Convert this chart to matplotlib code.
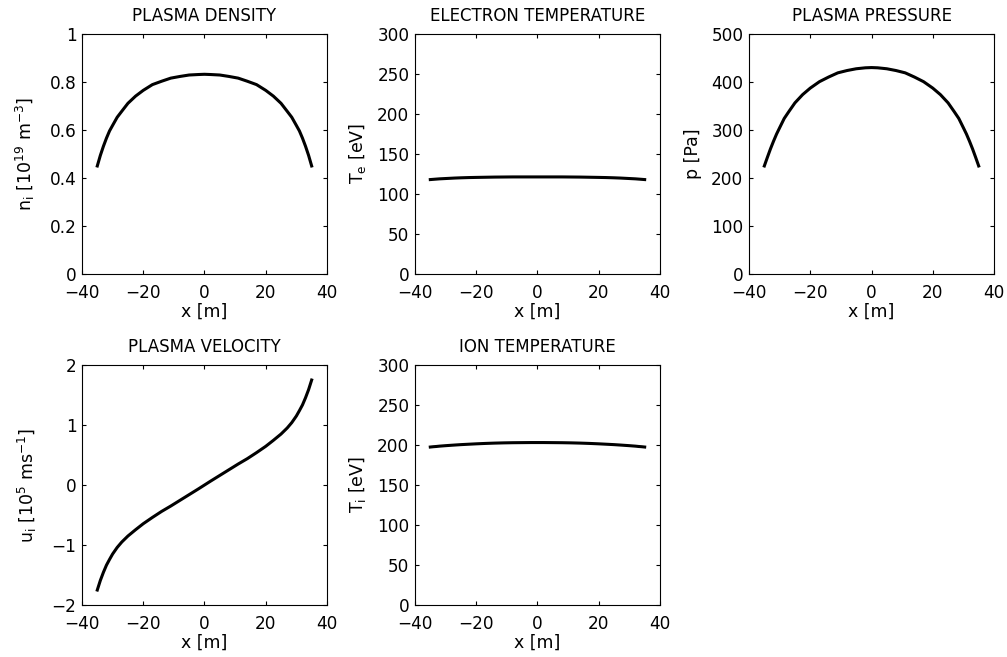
import matplotlib
matplotlib.use("Agg")
import matplotlib.pyplot as plt

# positions along the field line [m]
x = [-35, -34, -33, -32, -31, -30, -28.5, -27, -25, -22.5, -20, -17, -14, -11, -8, -5, -2, 0,
     2, 5, 8, 11, 14, 17, 20, 22.5, 25, 27, 28.5, 30, 31, 32, 33, 34, 35]

# plasma density [1e19 m^-3]
density = [0.450, 0.494, 0.532, 0.566, 0.596, 0.619, 0.653, 0.678, 0.711, 0.741, 0.765, 0.789,
           0.803, 0.816, 0.823, 0.829, 0.831, 0.832,
           0.831, 0.829, 0.823, 0.816, 0.803, 0.789, 0.765, 0.741, 0.711, 0.678, 0.653, 0.619,
           0.596, 0.566, 0.532, 0.494, 0.450]

# electron temperature [eV]
te = [118.0, 118.3, 118.6, 118.9, 119.1, 119.3, 119.6, 119.9, 120.2, 120.5, 120.7, 120.9,
      121.1, 121.2, 121.3, 121.3, 121.3, 121.3,
      121.3, 121.3, 121.3, 121.2, 121.1, 120.9, 120.7, 120.5, 120.2, 119.9, 119.6, 119.3,
      119.1, 118.9, 118.6, 118.3, 118.0]

# plasma pressure [Pa]
pressure = [225, 243, 260.5, 276.5, 291.5, 304.6, 324, 338.2, 356.5, 373.6, 387.2, 400.6,
            410.3, 419, 423.8, 427.5, 429.5, 430,
            429.5, 427.5, 423.8, 419, 410.3, 400.6, 387.2, 373.6, 356.5, 338.2, 324, 304.6,
            291.5, 276.5, 260.5, 243, 225]

# plasma velocity [1e5 m/s]
velocity = [-1.75, -1.59, -1.455, -1.335, -1.24, -1.15, -1.04, -0.95, -0.85, -0.745, -0.645,
            -0.54, -0.44, -0.35, -0.255, -0.16, -0.065, 0.0,
            0.065, 0.16, 0.255, 0.35, 0.44, 0.54, 0.645, 0.745, 0.85, 0.95, 1.04, 1.15,
            1.24, 1.335, 1.455, 1.59, 1.75]

# ion temperature [eV]
ti = [197.5, 197.9, 198.2, 198.6, 198.9, 199.2, 199.6, 200.0, 200.5, 201.0, 201.5, 202.0,
      202.4, 202.7, 202.9, 203.0, 203.1, 203.1,
      203.1, 203.0, 202.9, 202.7, 202.4, 202.0, 201.5, 201.0, 200.5, 200.0, 199.6, 199.2,
      198.9, 198.6, 198.2, 197.9, 197.5]

plt.rcParams['font.family'] = ['DejaVu Sans']
plt.rcParams['mathtext.fontset'] = 'dejavusans'
plt.rcParams['mathtext.default'] = 'regular'

fig = plt.figure(figsize=(10.07, 6.57), dpi=100)

lefts = [0.0814, 0.4121, 0.7438]
bottoms = [0.5830, 0.0791]
w, h = 0.2433, 0.3653

panels = [
    (0, 0, density, 'PLASMA DENSITY', r'n$_i$ [10$^{19}$ m$^{-3}$]', (0, 1),
     [0, 0.2, 0.4, 0.6, 0.8, 1], -0.185),
    (0, 1, te, 'ELECTRON TEMPERATURE', r'T$_e$ [eV]', (0, 300),
     [0, 50, 100, 150, 200, 250, 300], -0.19),
    (0, 2, pressure, 'PLASMA PRESSURE', 'p [Pa]', (0, 500),
     [0, 100, 200, 300, 400, 500], -0.19),
    (1, 0, velocity, 'PLASMA VELOCITY', r'u$_i$ [10$^{5}$ ms$^{-1}$]', (-2, 2),
     [-2, -1, 0, 1, 2], -0.175),
    (1, 1, ti, 'ION TEMPERATURE', r'T$_i$ [eV]', (0, 300),
     [0, 50, 100, 150, 200, 250, 300], -0.19),
]

for row, col, y, title, ylabel, ylim, yticks, lx in panels:
    ax = fig.add_axes([lefts[col], bottoms[row], w, h])
    ax.plot(x, y, color='black', linewidth=2.2)
    ax.set_xlim(-40, 40)
    ax.set_ylim(*ylim)
    ax.set_xticks([-40, -20, 0, 20, 40])
    ax.set_yticks(yticks)
    if ylim == (0, 1):
        ax.set_yticklabels(['0', '0.2', '0.4', '0.6', '0.8', '1'])
    ax.tick_params(direction='in', length=3, width=0.8, top=True, right=True,
                   labelsize=12.2)
    ax.tick_params(axis='x', pad=7)
    ax.tick_params(axis='y', pad=4)
    for s in ax.spines.values():
        s.set_linewidth(0.8)
    ax.set_title(title, fontsize=12, pad=9.5)
    ax.set_xlabel('x [m]', fontsize=12.5, labelpad=1)
    ax.set_ylabel(ylabel, fontsize=12.5)
    ax.yaxis.set_label_coords(lx, 0.5)

fig.savefig('out.png', dpi=100)
